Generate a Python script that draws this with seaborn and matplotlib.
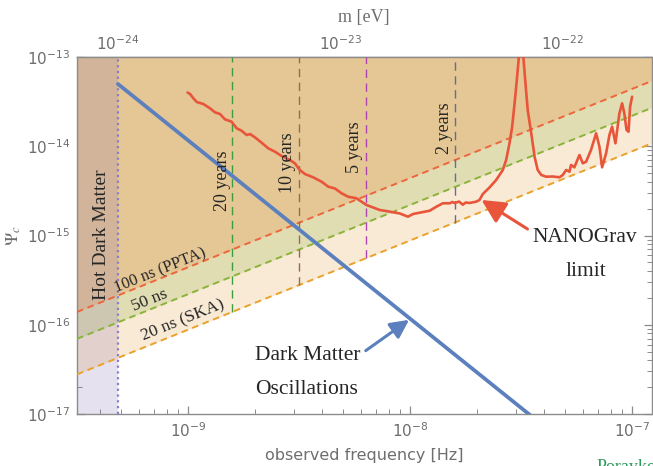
import numpy as np
import pandas as pd
import matplotlib
matplotlib.use("Agg")
import matplotlib.pyplot as plt
import seaborn as sns
from matplotlib.ticker import LogLocator, NullFormatter

# ---------------- data ----------------
freq_range = [10 ** -9.5, 1.22e-7]          # observed frequency [Hz]
psi_range = [1e-17, 1e-13]                   # Psi_c
HZ_PER_EV = 4.836e14                         # f = m / (pi hbar)
hot_dm_mass = 1e-24                          # eV
mass_ticks = [1e-24, 1e-23, 1e-22]

# timing-residual sensitivity lines: Psi_c = coeff * f
residual_labels = ["100 ns (PPTA)", "50 ns", "20 ns (SKA)"]
residual_coeff = [4.4e-7, 2.2e-7, 0.88e-7]
residual_colors = ["#EB673B", "#8BB33A", "#E9A22C"]

# observation spans
obs_years = [20, 10, 5, 2]
obs_labels = ["20 years", "10 years", "5 years", "2 years"]
obs_colors = ["#3E9E3E", "#946E4C", "#AD45B0", "#5F6E9E"]
SEC_PER_YEAR = 3.156e7

# dark matter oscillation signal (power law, two end points)
dm_freq = [4.836e-10, 4.0e-8]
dm_psi = [4.98e-14, 7.3e-18]

# NANOGrav limit (log10 values)
nano_log_f = [-9.002, -8.991, -8.976, -8.961, -8.931, -8.901, -8.879, -8.856, -8.834, -8.804,
              -8.781, -8.759, -8.736, -8.721, -8.699, -8.669, -8.639, -8.609, -8.579, -8.542,
              -8.519, -8.497, -8.474, -8.437, -8.399, -8.369, -8.339, -8.309, -8.280, -8.242,
              -8.197, -8.137, -8.092, -8.047, -8.010, -7.987, -7.942, -7.912, -7.882, -7.853,
              -7.822, -7.810, -7.800, -7.780, -7.763, -7.750, -7.733, -7.703, -7.688, -7.673,
              -7.643, -7.613, -7.583, -7.568, -7.553, -7.541, -7.530, -7.520, -7.508, -7.500,
              -7.493, -7.481, -7.471, -7.455, -7.440, -7.426, -7.410, -7.388, -7.358, -7.328,
              -7.313, -7.298, -7.283, -7.276, -7.261, -7.238, -7.223, -7.208, -7.186, -7.163,
              -7.148, -7.136, -7.118, -7.103, -7.091, -7.076, -7.058, -7.046, -7.036, -7.026,
              -7.017, -7.010, -7.001]
nano_log_psi = [-13.398, -13.415, -13.463, -13.504, -13.527, -13.575, -13.620, -13.639, -13.698, -13.725,
                -13.799, -13.826, -13.874, -13.863, -13.900, -13.960, -14.023, -14.061, -14.109, -14.154,
                -14.191, -14.266, -14.311, -14.348, -14.397, -14.453, -14.473, -14.527, -14.565, -14.583,
                -14.658, -14.714, -14.733, -14.753, -14.789, -14.759, -14.737, -14.722, -14.677, -14.639,
                -14.639, -14.625, -14.636, -14.620, -14.655, -14.630, -14.636, -14.621, -14.602, -14.535,
                -14.462, -14.378, -14.266, -14.154, -13.967, -13.781, -13.519, -13.258, -12.922, -12.500,
                -12.922, -13.295, -13.594, -13.855, -14.117, -14.266, -14.322, -14.341, -14.339, -14.348,
                -14.322, -14.266, -14.285, -14.210, -14.236, -14.098, -14.191, -14.173, -14.042, -13.855,
                -14.005, -14.236, -14.079, -13.874, -13.781, -13.967, -13.631, -13.519, -13.631, -13.818,
                -13.837, -13.557, -13.445]

# ---------------- style ----------------
sns.set_theme(style="ticks")
GRAY_TXT = "#6E6E6E"
GRAY_AX = "#8C8C8C"
plt.rcParams.update({
    "font.family": ["DejaVu Sans"],
    "mathtext.fontset": "dejavusans",
    "axes.edgecolor": GRAY_AX,
    "axes.linewidth": 1.0,
    "xtick.color": GRAY_AX,
    "ytick.color": GRAY_AX,
    "xtick.labelcolor": GRAY_TXT,
    "ytick.labelcolor": GRAY_TXT,
})
SERIF = ["Liberation Serif", "DejaVu Serif"]

fig = plt.figure(figsize=(6.53, 4.66), dpi=100)
ax = fig.add_axes([77 / 653, 1 - 414 / 466, (651.5 - 77) / 653, (414 - 57) / 466])
ax.set_xscale("log")
ax.set_yscale("log")
ax.set_xlim(freq_range)
ax.set_ylim(psi_range)

f_grid = np.array(freq_range)
res = {lab: c * f_grid for lab, c in zip(residual_labels, residual_coeff)}
psi100, psi50, psi20 = (res[l] for l in residual_labels)
top = np.full_like(f_grid, psi_range[1])

ax.fill_between(f_grid, psi20, psi50, color="#F9EAD5", lw=0, zorder=1)
ax.fill_between(f_grid, psi50, psi100, color="#E0DDB3", lw=0, zorder=1)
ax.fill_between(f_grid, psi100, top, color="#E5C695", lw=0, zorder=1)

f_hot = hot_dm_mass * HZ_PER_EV
ax.axvspan(freq_range[0], f_hot, color=(130 / 255, 108 / 255, 172 / 255), alpha=0.2, lw=0, zorder=2)
ax.axvline(f_hot, color="#8A7DCB", lw=1.6, ls=(0, (1, 1.6)), zorder=3)

for lab, col in zip(residual_labels, residual_colors):
    ax.plot(f_grid, res[lab], color=col, lw=1.4, ls=(0, (3.4, 2.4)), zorder=3)

for yrs, col in zip(obs_years, obs_colors):
    fy = 1.0 / (yrs * SEC_PER_YEAR)
    ax.vlines(fy, residual_coeff[2] * fy, psi_range[1], color=col, lw=1.0, ls=(0, (6, 4)), zorder=3)

# curves via seaborn
nano = pd.DataFrame({"f": 10 ** np.array(nano_log_f), "psi": 10 ** np.array(nano_log_psi)})
sns.lineplot(data=nano, x="f", y="psi", sort=False, estimator=None, color="#E8553A",
             lw=1.9, ax=ax, zorder=5)
dm = pd.DataFrame({"f": dm_freq, "psi": dm_psi})
sns.lineplot(data=dm, x="f", y="psi", sort=False, estimator=None, color="#5B80BD",
             lw=2.7, ax=ax, zorder=6)

# ---------------- text ----------------
ax.text(10 ** -9.391, 10 ** -14.994, "Hot Dark Matter", rotation=90, family=SERIF,
        fontsize=14, ha="center", va="center", zorder=7)

year_pos = [(-8.847, -14.389), (-8.551, -14.188), (-8.249, -14.008), (-7.845, -13.796)]
for lab, (lx, ly) in zip(obs_labels, year_pos):
    ax.text(10 ** lx, 10 ** ly, lab, rotation=90, family=SERIF, fontsize=13,
            ha="center", va="center", zorder=7)

res_pos = [(-9.127, -15.398), (-9.171, -15.723), (-9.022, -15.958)]
res_size = [11.8, 12.5, 12.5]
for lab, (lx, ly), fs in zip(residual_labels, res_pos, res_size):
    ax.text(10 ** lx, 10 ** ly, lab, rotation=21.9, family=SERIF, fontsize=fs,
            ha="center", va="center", rotation_mode="anchor", zorder=7)

ax.text(10 ** -8.461, 10 ** -16.339, "Dark Matter", family=SERIF, fontsize=15.5,
        ha="center", va="center", zorder=7)
ax.text(10 ** -8.465, 10 ** -16.720, "Oscillations", family=SERIF, fontsize=15.5,
        ha="center", va="center", zorder=7)
ax.text(10 ** -7.216, 10 ** -15.028, "NANOGrav", family=SERIF, fontsize=15.5,
        ha="center", va="center", zorder=7)
ax.text(10 ** -7.207, 10 ** -15.398, "limit", family=SERIF, fontsize=15.5,
        ha="center", va="center", zorder=7)

ax.annotate("", xy=(10 ** -8.005, 10 ** -15.945), xytext=(10 ** -8.20, 10 ** -16.29),
            arrowprops=dict(arrowstyle="-|>,head_length=0.7,head_width=0.35", color="#5B80BD",
                            lw=2.2, shrinkA=0, shrinkB=0, mutation_scale=16), zorder=7)
ax.annotate("", xy=(10 ** -7.679, 10 ** -14.602), xytext=(10 ** -7.472, 10 ** -14.927),
            arrowprops=dict(arrowstyle="-|>,head_length=0.8,head_width=0.4", color="#E8553A",
                            lw=2.2, shrinkA=0, shrinkB=0, mutation_scale=18), zorder=7)

# ---------------- axes ----------------
ax.tick_params(which="both", direction="in", top=False, right=True, labelright=False,
               labelsize=11)
ax.tick_params(which="major", length=6, width=0.9, pad=5)
ax.tick_params(which="minor", length=3.5, width=0.7)
ax.xaxis.set_minor_locator(LogLocator(base=10, subs=np.arange(2, 10)))
ax.yaxis.set_minor_locator(LogLocator(base=10, subs=np.arange(2, 10)))
ax.xaxis.set_minor_formatter(NullFormatter())
ax.yaxis.set_minor_formatter(NullFormatter())
for sp in ax.spines.values():
    sp.set_color(GRAY_AX)

ax.set_xlabel("observed frequency [Hz]", color=GRAY_TXT, fontsize=11.5)
ax.xaxis.set_label_coords(0.5, -0.095)
ax.set_ylabel(r"$\Psi_c$", color=GRAY_TXT, fontsize=13, math_fontfamily="stix")
ax.yaxis.set_label_coords(-0.094, 0.5)

secax = ax.secondary_xaxis("top", functions=(lambda f: f / HZ_PER_EV, lambda m: m * HZ_PER_EV))
secax.set_xticks(mass_ticks)
secax.xaxis.set_minor_locator(LogLocator(base=10, subs=np.arange(2, 10)))
secax.xaxis.set_minor_formatter(NullFormatter())
secax.tick_params(which="both", direction="in", labelsize=11, colors=GRAY_AX, labelcolor=GRAY_TXT)
secax.tick_params(which="major", length=6, width=0.9, pad=3)
secax.tick_params(which="minor", length=3.5, width=0.7)
secax.spines["top"].set_color(GRAY_AX)
secax.set_xlabel("m [eV]", family=SERIF, color=GRAY_TXT, fontsize=13, labelpad=9)

fig.text(597 / 653, 1 - 459 / 466, "Porayko", color="#2E9A5C", family=SERIF, fontsize=13,
         ha="left", va="top")

fig.savefig("out.png", dpi=100)
